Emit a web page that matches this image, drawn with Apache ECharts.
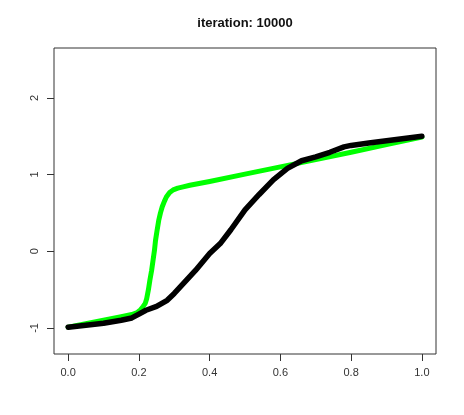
<!DOCTYPE html>
<html>
<head>
<meta charset="utf-8">
<script src="https://cdn.jsdelivr.net/npm/echarts@6/dist/echarts.min.js"></script>
<style>
  html, body { margin: 0; padding: 0; background: #fff; }
  #chart { width: 464px; height: 415px; }
</style>
</head>
<body>
<div id="chart"></div>
<script>
const titleText = 'iteration: 10000'
const xTicks = [0, 0.2, 0.4, 0.6, 0.8, 1.0]
const yTicks = [-1, 0, 1, 2]

const greenX = [0, 0.05, 0.1, 0.15, 0.18, 0.195, 0.205, 0.212, 0.218, 0.222, 0.227, 0.231, 0.236, 0.24, 0.244, 0.247, 0.251, 0.256, 0.261, 0.266, 0.272, 0.278, 0.287, 0.297, 0.31, 0.325, 0.344, 0.4, 0.5, 0.6, 0.7, 0.8, 0.9, 1.0]
const greenY = [-0.99, -0.945, -0.9, -0.855, -0.825, -0.8, -0.76, -0.72, -0.68, -0.62, -0.5, -0.38, -0.25, -0.12, 0.01, 0.14, 0.26, 0.4, 0.5, 0.58, 0.65, 0.71, 0.765, 0.8, 0.823, 0.84, 0.86, 0.91, 1.005, 1.1, 1.195, 1.29, 1.39, 1.49]

const blackX = [0, 0.05, 0.1, 0.15, 0.18, 0.2, 0.22, 0.25, 0.28, 0.3, 0.33, 0.36, 0.4, 0.43, 0.46, 0.5, 0.54, 0.58, 0.62, 0.66, 0.7, 0.74, 0.78, 0.8, 0.85, 0.9, 0.95, 1.0]
const blackY = [-0.99, -0.965, -0.94, -0.9, -0.87, -0.82, -0.77, -0.72, -0.64, -0.55, -0.4, -0.25, -0.03, 0.1, 0.28, 0.54, 0.74, 0.93, 1.08, 1.18, 1.23, 1.29, 1.36, 1.38, 1.41, 1.44, 1.47, 1.5]

const pairs = (xs, ys) => xs.map((x, i) => [x, ys[i]])

const chart = echarts.init(document.getElementById('chart'))
const font = 'Liberation Sans, Arial, Helvetica, sans-serif'

chart.setOption({
  animation: false,
  title: {
    text: titleText,
    left: 245,
    top: 17,
    padding: 0,
    textAlign: 'center',
    textStyle: { fontSize: 13, fontWeight: 'bold', color: '#111', fontFamily: font },
  },
  grid: {
    left: 54, right: 28, top: 48, bottom: 61,
    show: true, borderColor: '#333', borderWidth: 1, backgroundColor: 'transparent',
  },
  xAxis: {
    type: 'value',
    min: -0.04,
    max: 1.04,
    axisLine: { show: false, onZero: false },
    splitLine: { show: false },
    axisTick: { show: true, length: 7, lineStyle: { color: '#333' }, customValues: xTicks },
    axisLabel: {
      customValues: xTicks,
      margin: 13,
      fontSize: 11,
      color: '#333',
      fontFamily: font,
      formatter: (v) => v.toFixed(1),
    },
  },
  yAxis: {
    type: 'value',
    min: -1.34,
    max: 2.65,
    axisLine: { show: false, onZero: false },
    splitLine: { show: false },
    axisTick: { show: true, length: 7, lineStyle: { color: '#333' }, customValues: yTicks },
    axisLabel: {
      customValues: yTicks,
      rotate: 90,
      margin: 14,
      fontSize: 11,
      color: '#333',
      fontFamily: font,
    },
  },
  series: [
    {
      type: 'line',
      data: pairs(greenX, greenY),
      symbol: 'none',
      lineStyle: { color: '#00ff00', width: 5, cap: 'round', join: 'round' },
      z: 2,
    },
    {
      type: 'line',
      data: pairs(blackX, blackY),
      symbol: 'none',
      lineStyle: { color: '#000', width: 5.5, cap: 'round', join: 'round' },
      z: 3,
    },
  ],
})
</script>
</body>
</html>
